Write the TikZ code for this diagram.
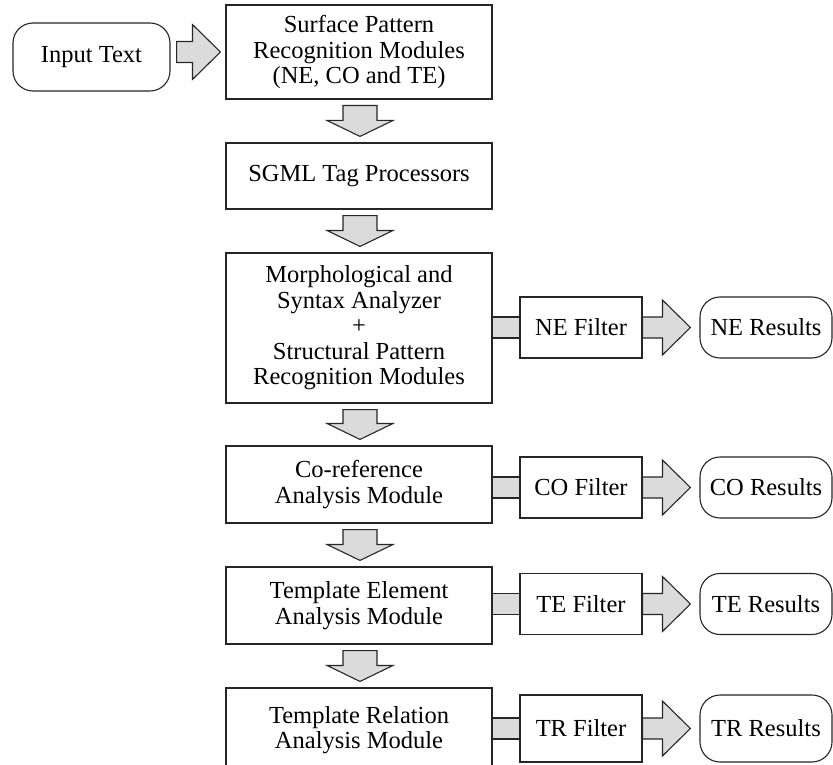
\documentclass[tikz,border=0pt]{standalone}
\usepackage{fontspec}
\setmainfont{Liberation Serif}
\usetikzlibrary{calc}
\tikzset{
  box/.style={draw=black!85, line width=1.1pt, fill=white, align=center, inner sep=0pt,
              font=\fontsize{24.5}{25.5}\selectfont},
  colbox/.style={box, minimum width=266pt},
  filt/.style={box, minimum width=122pt},
  res/.style={box, rounded corners=20pt, minimum width=132pt},
  blk/.style={draw=black!85, line width=1.1pt, fill=black!14, line join=miter},
}
% down block arrow from node #1 to node #2
\newcommand\blockdown[2]{%
  \draw[blk] ($(#1.south)+(-16,6)$) -- ($(#1.south)+(18,6)$) -- ($(#2.north)+(18,-22)$)
    -- ($(#2.north)+(34,-22)$) -- ($(#2.north)+(1,-6)$) -- ($(#2.north)+(-32,-22)$)
    -- ($(#2.north)+(-16,-22)$) -- cycle;}
% right block arrow from #1 to #2, gap at start #3, gap at tip #4
\newcommand\blockright[4]{%
  \draw[blk] ($(#1.east|-#2.west)+(#3,-10.5)$) -- ($(#2.west)+(-#4-28,-10.5)$)
    -- ($(#2.west)+(-#4-28,-27.5)$) -- ($(#2.west)+(-#4,0)$)
    -- ($(#2.west)+(-#4-28,27.5)$) -- ($(#2.west)+(-#4-28,10.5)$)
    -- ($(#1.east|-#2.west)+(#3,10.5)$) -- cycle;}
% plain connector band from box #1 to filter #2
\newcommand\blockband[2]{%
  \draw[blk] ($(#1.east|-#2.west)+(0,-10.5)$) rectangle ($(#2.west)+(0,10.5)$);}
\begin{document}
\begin{tikzpicture}[x=1pt,y=-1pt]
\useasboundingbox (0,0) rectangle (833,765);

\node[box, rounded corners=20pt, minimum width=157pt, minimum height=68pt] (in) at (91.5,57) {Input Text};
\node[colbox, minimum height=94pt] (sp) at (359,52) {Surface Pattern\\Recognition Modules\\(NE, CO and TE)};
\node[colbox, minimum height=66pt] (sg) at (359,176) {SGML Tag Processors};
\node[colbox, minimum height=150pt] (mo) at (359,328) {Morphological and\\ Syntax Analyzer\\+\\Structural Pattern\\Recognition Modules};
\node[colbox, minimum height=77pt] (co) at (359,484.5) {Co-reference\\Analysis Module};
\node[colbox, minimum height=77pt] (te) at (359,605.5) {Template Element\\Analysis Module};
\node[colbox, minimum height=84pt] (tr) at (359,730) {Template Relation\\Analysis Module};

\node[filt, minimum height=61pt] (nef) at (581,327.5) {NE Filter};
\node[filt, minimum height=61pt] (cof) at (581,487.5) {CO Filter};
\node[filt, minimum height=61pt] (tef) at (581,604) {TE Filter};
\node[filt, minimum height=67pt] (trf) at (581,728.5) {TR Filter};

\node[res, minimum height=61pt] (ner) at (766,327.5) {NE Results};
\node[res, minimum height=61pt] (cor) at (766,487.5) {CO Results};
\node[res, minimum height=61pt] (ter) at (766,604) {TE Results};
\node[res, minimum height=67pt] (trr) at (766,728.5) {TR Results};

\blockright{in}{sp}{6}{5}
\blockdown{sp}{sg}
\blockdown{sg}{mo}
\blockdown{mo}{co}
\blockdown{co}{te}
\blockdown{te}{tr}

\blockband{mo}{nef}
\blockband{co}{cof}
\blockband{te}{tef}
\blockband{tr}{trf}

\blockright{nef}{ner}{0}{9}
\blockright{cof}{cor}{0}{9}
\blockright{tef}{ter}{0}{9}
\blockright{trf}{trr}{0}{9}
\end{tikzpicture}
\end{document}
